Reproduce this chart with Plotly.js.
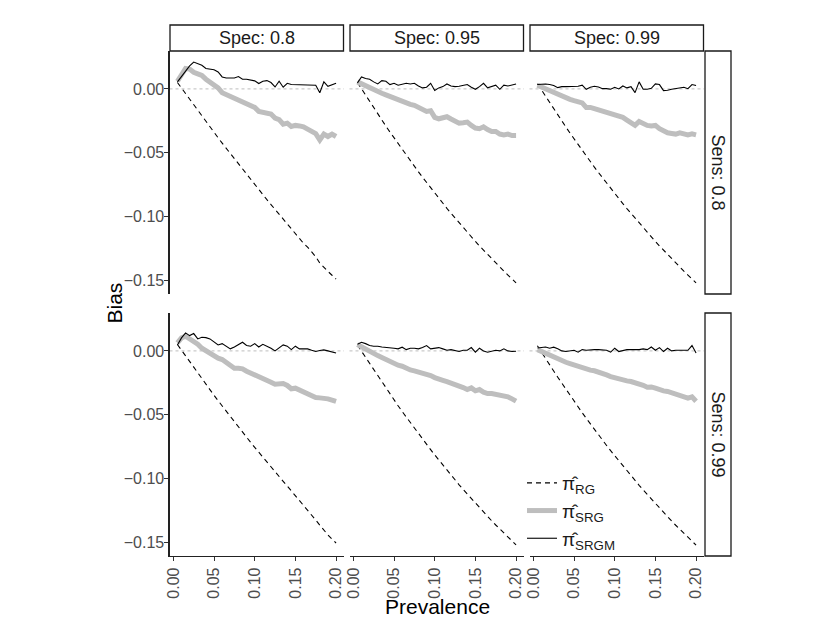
<!DOCTYPE html>
<html>
<head>
<meta charset="utf-8">
<script src="https://cdn.plot.ly/plotly-3.0.1.min.js"></script>
<style>
  html, body { margin: 0; padding: 0; background: #fff; }
  #chart { width: 830px; height: 642px; }
</style>
</head>
<body>
<div id="chart"></div>
<script>
const prevalence = [0.005, 0.01, 0.015, 0.02, 0.025, 0.03, 0.035, 0.04, 0.045, 0.05,
    0.055, 0.06, 0.065, 0.07, 0.075, 0.08, 0.085, 0.09, 0.095, 0.1,
    0.105, 0.11, 0.115, 0.12, 0.125, 0.13, 0.135, 0.14, 0.145, 0.15,
    0.155, 0.16, 0.165, 0.17, 0.175, 0.18, 0.185, 0.19, 0.195, 0.2];

const specLabels = ['Spec: 0.8', 'Spec: 0.95', 'Spec: 0.99'];
const sensLabels = ['Sens: 0.8', 'Sens: 0.99'];
const seriesNames = ['π̂<sub>RG</sub>', 'π̂<sub>SRG</sub>', 'π̂<sub>SRGM</sub>'];

const xTickVals = [0, 0.05, 0.1, 0.15, 0.2];
const xTickText = ['0.00', '0.05', '0.10', '0.15', '0.20'];
const yTickVals = [0, -0.05, -0.1, -0.15];
const yTickText = ['0.00', '\u22120.05', '\u22120.10', '\u22120.15'];

// Sens 0.8
const rgSe80Sp80 = [0.005, 0.0006, -0.0039, -0.0083, -0.0126, -0.017, -0.0213, -0.0256, -0.0298, -0.034,
    -0.0383, -0.0425, -0.0466, -0.0508, -0.0549, -0.059, -0.063, -0.067, -0.071, -0.075,
    -0.079, -0.0829, -0.0868, -0.0906, -0.0945, -0.0983, -0.1021, -0.1059, -0.11, -0.114,
    -0.118, -0.121, -0.124, -0.1275, -0.1315, -0.1365, -0.14, -0.143, -0.146, -0.149];
const srgSe80Sp80 = [0.006, 0.0115, 0.016, 0.0155, 0.013, 0.0118, 0.0105, 0.0076, 0.0055, 0.0034,
    0.0008, -0.003, -0.0045, -0.005, -0.007, -0.0087, -0.0097, -0.011, -0.0129, -0.0145,
    -0.0176, -0.018, -0.0187, -0.0197, -0.0228, -0.024, -0.0276, -0.0268, -0.0294, -0.0286,
    -0.029, -0.0297, -0.0315, -0.0333, -0.035, -0.040, -0.0354, -0.0373, -0.0354, -0.0373];
const srgmSe80Sp80 = [0.0055, 0.010, 0.014, 0.018, 0.021, 0.020, 0.0185, 0.016, 0.0155, 0.015,
    0.0133, 0.0094, 0.0086, 0.0086, 0.0086, 0.0097, 0.0076, 0.0076, 0.007, 0.0063,
    0.0042, 0.006, 0.0065, 0.005, 0.0015, 0.006, 0.0013, 0.0044, 0.0034, 0.0034,
    0.0034, 0.0034, 0.0034, 0.0029, 0.0029, -0.003, 0.0055, 0.002, 0.0034, 0.0044];

const rgSe80Sp95 = [0.005, 0.0, -0.005, -0.01, -0.0148, -0.0197, -0.0244, -0.0292, -0.0338, -0.0384,
    -0.043, -0.0475, -0.052, -0.0564, -0.0607, -0.065, -0.0692, -0.0734, -0.0776, -0.0816,
    -0.0857, -0.0896, -0.0936, -0.0974, -0.1012, -0.105, -0.1087, -0.1123, -0.1159, -0.1195,
    -0.123, -0.1264, -0.1298, -0.1331, -0.1364, -0.1396, -0.1428, -0.1459, -0.149, -0.152];
const srgSe80Sp95 = [0.0055, 0.0039, 0.0021, 0.0008, -0.0008, -0.0021, -0.0034, -0.0047, -0.006, -0.0074,
    -0.0089, -0.010, -0.011, -0.0121, -0.0129, -0.0147, -0.016, -0.0176, -0.0171, -0.0223,
    -0.0234, -0.0223, -0.0218, -0.0236, -0.0255, -0.0268, -0.0265, -0.026, -0.0286, -0.0307,
    -0.0312, -0.0297, -0.0318, -0.0333, -0.0333, -0.0354, -0.036, -0.0354, -0.0365, -0.0365];
const srgmSe80Sp95 = [0.0047, 0.0094, 0.0081, 0.0076, 0.0055, 0.0039, 0.0065, 0.006, 0.0034, 0.0044,
    0.0029, 0.0039, 0.0044, 0.0039, 0.0044, 0.0023, 0.0008, 0.0013, 0.0044, -0.0013,
    0.0008, 0.0018, 0.0039, 0.0023, 0.0018, 0.0021, 0.0026, 0.0034, 0.0013, -0.0003,
    0.0018, 0.0044, 0.0008, 0.0018, 0.0029, -0.0003, 0.0029, 0.0023, 0.0029, 0.0039];

const rgSe80Sp99 = [0.004, -0.001, -0.0058, -0.0107, -0.0156, -0.0204, -0.0252, -0.0299, -0.0346, -0.0392,
    -0.0437, -0.0482, -0.0526, -0.057, -0.0613, -0.0655, -0.0697, -0.0739, -0.078, -0.082,
    -0.086, -0.0899, -0.0938, -0.0976, -0.1014, -0.1051, -0.1088, -0.1124, -0.116, -0.1195,
    -0.123, -0.1264, -0.1298, -0.1331, -0.1364, -0.1396, -0.1428, -0.1459, -0.149, -0.152];
const srgSe80Sp99 = [0.0029, 0.0015, 0.0, -0.0016, -0.0034, -0.005, -0.0055, -0.0071, -0.0082, -0.0092,
    -0.010, -0.011, -0.0145, -0.0145, -0.0155, -0.0165, -0.0181, -0.0192, -0.0202, -0.0213,
    -0.0223, -0.0223, -0.0244, -0.0265, -0.0286, -0.0255, -0.0276, -0.0286, -0.0291, -0.0286,
    -0.0312, -0.0328, -0.0344, -0.0349, -0.0354, -0.0344, -0.0354, -0.036, -0.0352, -0.036];
const srgmSe80Sp99 = [0.0034, 0.0039, 0.0039, 0.0034, 0.0026, 0.001, 0.0018, 0.0018, 0.0018, 0.0018,
    0.0021, 0.0029, -0.0003, 0.0013, 0.0021, 0.0015, 0.0002, 0.0002, -0.0003, 0.0013,
    0.0, 0.0023, 0.0008, 0.0018, -0.0029, 0.0055, -0.0003, -0.0003, 0.0005, 0.0039,
    0.0034, -0.0013, -0.0011, -0.0003, 0.0002, 0.0008, 0.0013, 0.0002, 0.0034, 0.0026];

// Sens 0.99
const rgSe99Sp80 = [0.005, 0.0005, -0.004, -0.0085, -0.013, -0.0174, -0.0218, -0.0262, -0.0305, -0.0348,
    -0.039, -0.0432, -0.0474, -0.0515, -0.0556, -0.0597, -0.0637, -0.0677, -0.0717, -0.0756,
    -0.0795, -0.0834, -0.0872, -0.091, -0.0948, -0.0985, -0.1022, -0.1059, -0.1096, -0.1134,
    -0.1172, -0.121, -0.1248, -0.1287, -0.1325, -0.1365, -0.1405, -0.1442, -0.1475, -0.1505];
const srgSe99Sp80 = [0.0063, 0.0102, 0.0115, 0.0094, 0.0078, 0.0052, 0.0021, 0.0, -0.0021, -0.0042,
    -0.0057, -0.0068, -0.0089, -0.0104, -0.0136, -0.0136, -0.0141, -0.0159, -0.0172, -0.0193,
    -0.0203, -0.0211, -0.023, -0.0245, -0.0261, -0.0258, -0.0256, -0.0271, -0.0297, -0.0292,
    -0.0308, -0.0318, -0.0329, -0.035, -0.0365, -0.0368, -0.037, -0.0376, -0.0386, -0.0396];
const srgmSe99Sp80 = [0.0047, 0.0102, 0.0141, 0.012, 0.0136, 0.0094, 0.0107, 0.0104, 0.0094, 0.007,
    0.0047, 0.0057, 0.0037, 0.0016, 0.0031, 0.005, 0.0068, 0.0042, 0.0037, 0.0057,
    0.0031, 0.0052, 0.0037, 0.0021, 0.0, 0.0021, 0.0047, 0.0037, 0.001, 0.0037,
    0.0016, 0.0016, 0.0016, 0.0005, -0.0005, 0.0003, 0.0008, 0.0, -0.001, -0.0016];

const rgSe99Sp95 = [0.0045, -0.0003, -0.0052, -0.0101, -0.015, -0.0198, -0.0246, -0.0293, -0.0339, -0.0385,
    -0.043, -0.0475, -0.0519, -0.0563, -0.0606, -0.0649, -0.0691, -0.0733, -0.0774, -0.0815,
    -0.0855, -0.0895, -0.0934, -0.0973, -0.1011, -0.1049, -0.1086, -0.1122, -0.1158, -0.1194,
    -0.1229, -0.1263, -0.1297, -0.1331, -0.1364, -0.1396, -0.1428, -0.1459, -0.149, -0.152];
const srgSe99Sp95 = [0.005, 0.0031, 0.001, -0.0005, -0.0021, -0.0037, -0.0052, -0.0068, -0.0083, -0.0099,
    -0.0112, -0.012, -0.0136, -0.0149, -0.0156, -0.0164, -0.0172, -0.0183, -0.0193, -0.0209,
    -0.0224, -0.023, -0.024, -0.025, -0.0261, -0.0271, -0.0287, -0.0303, -0.029, -0.0313,
    -0.0303, -0.0323, -0.0334, -0.0334, -0.0339, -0.0344, -0.035, -0.036, -0.0376, -0.0394];
const srgmSe99Sp95 = [0.0052, 0.0068, 0.0057, 0.0042, 0.0037, 0.0037, 0.0031, 0.0029, 0.0026, 0.0021,
    0.0016, 0.0029, 0.001, 0.0021, 0.0021, 0.0016, 0.0026, 0.0042, 0.0016, 0.0021,
    0.0026, 0.0016, 0.0005, 0.001, 0.0, -0.0005, 0.0005, 0.0005, 0.0026, -0.001,
    0.0021, 0.0, -0.001, 0.0, 0.0005, 0.0, 0.0016, 0.0, -0.0005, -0.0003];

const rgSe99Sp99 = [0.004, -0.0012, -0.006, -0.0109, -0.0158, -0.0206, -0.0254, -0.0301, -0.0348, -0.0394,
    -0.0439, -0.0484, -0.0528, -0.0572, -0.0615, -0.0657, -0.0699, -0.0741, -0.0782, -0.0822,
    -0.0862, -0.0901, -0.094, -0.0978, -0.1016, -0.1053, -0.109, -0.1126, -0.1162, -0.1197,
    -0.1232, -0.1266, -0.13, -0.1333, -0.1366, -0.1398, -0.143, -0.1461, -0.1492, -0.1522];
const srgSe99Sp99 = [0.001, -0.0005, -0.0021, -0.0031, -0.0044, -0.006, -0.0078, -0.0089, -0.0099, -0.011,
    -0.012, -0.0136, -0.0143, -0.0151, -0.0156, -0.0164, -0.0175, -0.0188, -0.0201, -0.0211,
    -0.0222, -0.0227, -0.0235, -0.024, -0.0248, -0.0253, -0.0269, -0.0284, -0.0282, -0.0292,
    -0.0305, -0.0313, -0.0318, -0.0329, -0.0336, -0.0344, -0.036, -0.037, -0.036, -0.0394];
const srgmSe99Sp99 = [0.0023, 0.0026, 0.0031, 0.0021, 0.0029, 0.0016, 0.0, -0.0005, 0.0, 0.0005,
    -0.001, 0.001, 0.0005, 0.001, 0.001, 0.001, 0.001, 0.0005, -0.001, 0.0021,
    -0.0005, 0.0005, 0.001, 0.001, 0.001, 0.001, 0.0016, 0.001, 0.0031, 0.0005,
    0.0026, -0.0005, 0.0021, 0.0, 0.0005, 0.0005, 0.0, 0.0005, 0.0042, -0.0016];

// row-major: Sens 0.8 row, then Sens 0.99 row
const panels = [
    [rgSe80Sp80, srgSe80Sp80, srgmSe80Sp80],
    [rgSe80Sp95, srgSe80Sp95, srgmSe80Sp95],
    [rgSe80Sp99, srgSe80Sp99, srgmSe80Sp99],
    [rgSe99Sp80, srgSe99Sp80, srgmSe99Sp80],
    [rgSe99Sp95, srgSe99Sp95, srgmSe99Sp95],
    [rgSe99Sp99, srgSe99Sp99, srgmSe99Sp99],
];

const W = 830, H = 642;
const FONT = "'Liberation Sans', Arial, sans-serif";
const px = (v) => v / W;
const py = (v) => 1 - v / H;

const colPx = [[169.5, 344], [349.5, 524], [529.5, 704]];
const rowPx = [[51, 294], [313, 556]];
const stripTop = [25, 51];
const stripRight = [705, 731];

const lineStyles = [
    { color: '#000000', width: 1.1, dash: '5px,4px' },
    { color: '#bebebe', width: 5 },
    { color: '#000000', width: 1.1 },
];

const traces = [];
const layout = {
    width: W,
    height: H,
    margin: { l: 0, r: 0, t: 0, b: 0 },
    paper_bgcolor: '#ffffff',
    plot_bgcolor: '#ffffff',
    font: { family: FONT, color: '#1a1a1a' },
    showlegend: true,
    legend: {
        x: px(522),
        y: py(464),
        xanchor: 'left',
        yanchor: 'top',
        bgcolor: 'rgba(0,0,0,0)',
        font: { family: FONT, size: 19, color: '#1a1a1a' },
        itemwidth: 30,
        tracegroupgap: 0,
    },
    shapes: [],
    annotations: [],
};

panels.forEach((series, p) => {
    const row = Math.floor(p / 3);
    const col = p % 3;
    const n = p === 0 ? '' : String(p + 1);
    const xName = 'x' + n;
    const yName = 'y' + n;

    series.forEach((vals, s) => {
        traces.push({
            x: prevalence,
            y: vals,
            xaxis: xName,
            yaxis: yName,
            type: 'scatter',
            mode: 'lines',
            name: seriesNames[s],
            legendgroup: 's' + s,
            showlegend: p === 0,
            line: lineStyles[s],
            hoverinfo: 'skip',
        });
    });

    const bottom = row === 1;
    const left = col === 0;

    layout['xaxis' + n] = {
        domain: [px(colPx[col][0]), px(colPx[col][1])],
        anchor: yName,
        range: [-0.00475, 0.20975],
        fixedrange: true,
        showgrid: false,
        zeroline: false,
        tickvals: xTickVals,
        ticktext: xTickText,
        tickangle: -90,
        showticklabels: bottom,
        showline: bottom,
        linecolor: '#222222',
        linewidth: 1.1,
        ticks: bottom ? 'outside' : '',
        ticklen: 4,
        tickwidth: 1,
        tickcolor: '#333333',
        tickfont: { family: FONT, size: 16, color: '#4d4d4d' },
    };

    layout['yaxis' + n] = {
        domain: [py(rowPx[row][1]), py(rowPx[row][0])],
        anchor: xName,
        range: [-0.1607, 0.0297],
        fixedrange: true,
        showgrid: false,
        zeroline: false,
        tickvals: yTickVals,
        ticktext: yTickText,
        showticklabels: left,
        showline: left,
        linecolor: '#222222',
        linewidth: 1.1,
        ticks: left ? 'outside' : '',
        ticklen: 4,
        tickwidth: 1,
        tickcolor: '#333333',
        ticklabelstandoff: -3,
        tickfont: { family: FONT, size: 16, color: '#4d4d4d' },
    };

    // dotted reference line at zero bias
    layout.shapes.push({
        type: 'line',
        xref: xName + ' domain',
        yref: yName,
        x0: 0,
        x1: 1,
        y0: 0,
        y1: 0,
        layer: 'below',
        line: { color: '#bdbdbd', width: 1, dash: 'dot' },
    });
});

// strips along the top
specLabels.forEach((label, c) => {
    layout.shapes.push({
        type: 'rect',
        xref: 'paper',
        yref: 'paper',
        x0: px(colPx[c][0] + 0.5),
        x1: px(colPx[c][1] - 0.5),
        y0: py(stripTop[1]),
        y1: py(stripTop[0]),
        fillcolor: '#ffffff',
        line: { color: '#1a1a1a', width: 1.3 },
    });
    layout.annotations.push({
        text: label,
        xref: 'paper',
        yref: 'paper',
        x: px((colPx[c][0] + colPx[c][1]) / 2),
        y: py((stripTop[0] + stripTop[1]) / 2),
        xanchor: 'center',
        yanchor: 'middle',
        showarrow: false,
        font: { family: FONT, size: 18, color: '#1a1a1a' },
    });
});

// strips on the right
sensLabels.forEach((label, r) => {
    layout.shapes.push({
        type: 'rect',
        xref: 'paper',
        yref: 'paper',
        x0: px(stripRight[0]),
        x1: px(stripRight[1]),
        y0: py(rowPx[r][1]),
        y1: py(rowPx[r][0]),
        fillcolor: '#ffffff',
        line: { color: '#1a1a1a', width: 1.3 },
    });
    layout.annotations.push({
        text: label,
        xref: 'paper',
        yref: 'paper',
        x: px((stripRight[0] + stripRight[1]) / 2),
        y: py((rowPx[r][0] + rowPx[r][1]) / 2),
        xanchor: 'center',
        yanchor: 'middle',
        textangle: 90,
        showarrow: false,
        font: { family: FONT, size: 18, color: '#1a1a1a' },
    });
});

// shared axis titles
layout.annotations.push({
    text: 'Bias',
    xref: 'paper',
    yref: 'paper',
    x: px(114),
    y: py(303.5),
    xanchor: 'center',
    yanchor: 'middle',
    textangle: -90,
    showarrow: false,
    font: { family: FONT, size: 21, color: '#000000' },
});
layout.annotations.push({
    text: 'Prevalence',
    xref: 'paper',
    yref: 'paper',
    x: px(437),
    y: py(606),
    xanchor: 'center',
    yanchor: 'middle',
    showarrow: false,
    font: { family: FONT, size: 21, color: '#000000' },
});

Plotly.newPlot('chart', traces, layout, { staticPlot: true, displayModeBar: false });
</script>
</body>
</html>
